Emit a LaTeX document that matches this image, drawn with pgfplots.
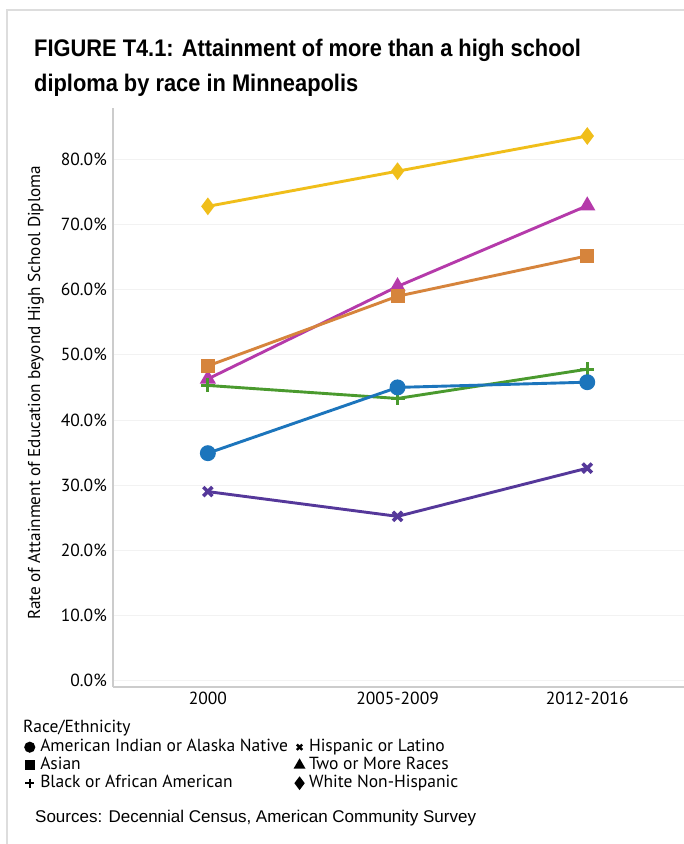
\documentclass[border=0pt]{standalone}
\usepackage{pgfplots}
\pgfplotsset{compat=1.18}
\usepackage{fontspec}
\setmainfont{PT Sans}
\newfontfamily\titlefont[FakeStretch=0.91]{Liberation Sans}
\newfontfamily\srcfont{Liberation Sans}
\definecolor{cWhite}{HTML}{F0BE1A}
\definecolor{cTwo}{HTML}{B53AAA}
\definecolor{cAsian}{HTML}{D6843C}
\definecolor{cBlack}{HTML}{4A9A2E}
\definecolor{cAI}{HTML}{1C75BC}
\definecolor{cHisp}{HTML}{55389A}
\definecolor{frame}{HTML}{DDDDDD}
\begin{document}
\begin{tikzpicture}[x=1pt,y=1pt]
\path[use as bounding box, fill=white] (0,0) rectangle (684,844);
\draw[frame, line width=2.5pt] (7,0) -- (7,834) -- (684,834);
\coordinate (AX) at (113,157);
\node[anchor=base west, inner sep=0pt, font=\titlefont\bfseries\fontsize{24}{27}\selectfont] at (34,787) {FIGURE T4.1: Attainment of more than a high school};
\node[anchor=base west, inner sep=0pt, font=\titlefont\bfseries\fontsize{24}{27}\selectfont] at (34,752) {diploma by race in Minneapolis};
\node[anchor=base west, inner sep=0pt, font=\fontsize{17.5}{20}\selectfont] at (23,111) {Race/Ethnicity};
\node[anchor=base west, inner sep=0pt, font=\srcfont\fontsize{17}{20}\selectfont] at (35,21) {Sources: Decennial Census, American Community Survey};
\begin{axis}[
  at={(AX)}, anchor=south west,
  scale only axis, width=571pt, height=579pt,
  xmin=-0.5, xmax=2.51, ymin=-1.0, ymax=87.9,
  axis x line=bottom, axis y line=left,
  axis line style={-, draw=gray!40, line width=1.2pt},
  major tick length=0pt,
  xtick={0,1,2}, xticklabels={2000,2005-2009,2012-2016},
  ytick={0,10,...,80},
  yticklabel={\pgfmathprintnumber[fixed,fixed zerofill,precision=1]{\tick}\%},
  /pgf/number format/assume math mode=true,
  ticklabel style={font=\fontsize{17.5}{20}\selectfont},
  yticklabel style={anchor=east, inner sep=0pt, xshift=-6pt},
  xticklabel style={anchor=north, inner sep=0pt, yshift=-5pt},
  ymajorgrids, grid style={draw=gray!10, line width=0.8pt},
  ylabel={Rate of Attainment of Education beyond High School Diploma},
  ylabel style={at={(axis description cs:-0.135,0.508)}, anchor=center, font=\fontsize{17.2}{20}\selectfont},
  every axis plot/.append style={line width=2.9pt},
  legend columns=2,
  legend cell align=left,
  legend style={at={(axis description cs:-0.154,-0.0898)}, anchor=north west, draw=none, fill=none,
    inner sep=0pt, font=\fontsize{17.5}{20}\selectfont, row sep=2pt,
    nodes={inner ysep=0pt, text height=12.5pt, text depth=3.5pt},
    /tikz/every odd column/.append style={column sep=4pt},
    /tikz/every even column/.append style={column sep=6pt}},
  clip=false,
]
\addplot[color=cWhite, mark=diamond*, mark size=6.5pt, forget plot] coordinates {(0,72.8) (1,78.2) (2,83.6)};
\addplot[color=cTwo, mark=triangle*, mark size=6.5pt, forget plot] coordinates {(0,46.3) (1,60.5) (2,72.9)};
\addplot[color=cAsian, mark=square*, mark size=5.5pt, forget plot] coordinates {(0,48.3) (1,59.0) (2,65.2)};
\addplot[color=cBlack, mark=+, mark size=7pt, mark options={line width=3.2pt}, forget plot] coordinates {(0,45.3) (1,43.3) (2,47.8)};
\addplot[color=cAI, mark=*, mark size=6.5pt, forget plot] coordinates {(0,34.9) (1,45.0) (2,45.8)};
\addplot[color=cHisp, mark=x, mark size=6.5pt, mark options={line width=3.5pt}, forget plot] coordinates {(0,29.0) (1,25.2) (2,32.6)};
\addlegendimage{only marks, black, mark=*, mark size=4pt}
\addlegendentry{American Indian or Alaska Native}
\addlegendimage{only marks, black, mark=x, mark size=3.8pt, mark options={line width=2.4pt}}
\addlegendentry{Hispanic or Latino}
\addlegendimage{only marks, black, mark=square*, mark size=3.5pt}
\addlegendentry{Asian}
\addlegendimage{only marks, black, mark=triangle*, mark size=4pt}
\addlegendentry{Two or More Races}
\addlegendimage{only marks, black, mark=+, mark size=4.5pt, mark options={line width=2.2pt}}
\addlegendentry{Black or African American}
\addlegendimage{only marks, black, mark=diamond*, mark size=4.5pt}
\addlegendentry{White Non-Hispanic}
\end{axis}
\end{tikzpicture}
\end{document}
